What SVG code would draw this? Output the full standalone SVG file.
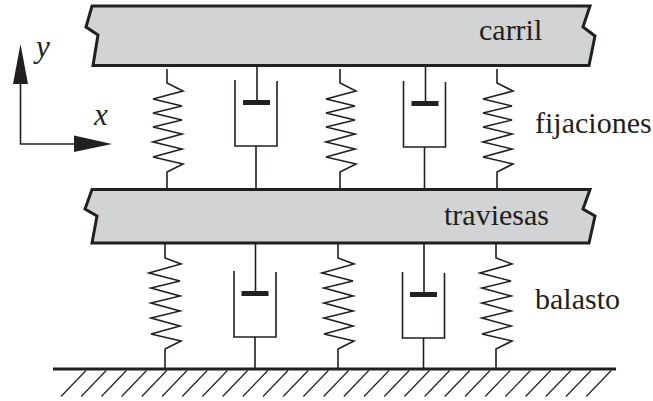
<svg xmlns="http://www.w3.org/2000/svg" xmlns:xlink="http://www.w3.org/1999/xlink" width="653" height="401" viewBox="0 0 653 401">
<style>
.ln{fill:none;stroke:#231f20;stroke-width:1.6}
.beam{fill:#d1d3d4;stroke:#231f20;stroke-width:3}
.plate{fill:#231f20}
.head{fill:#231f20}
.gnd{stroke:#231f20;stroke-width:3}
.hatch{stroke:#231f20;stroke-width:1.2}
text{font-family:"Liberation Serif","Times New Roman",serif;font-size:30px;fill:#231f20}
.it{font-style:italic;font-size:31px}
</style>
<defs>
<polyline id="spU" class="ln" points="0,0 0,14 16,22 -14,30 15,37 -14,44 15,51 -14,58 15,65 -14,73 15,80 -14,88 16,95 0,103 0,119"/>
<polyline id="spL" class="ln" points="0,0 0,15 16,21 -16,30 15,38 -14,45 15,53 -14,60 15,68 -14,75 15,83 -14,91 16,98 0,106 0,125"/>
<g id="dpU">
<path class="ln" d="M0,0V34M-22,14V80H20V15M-1,80V122"/>
<rect class="plate" x="-14" y="34" width="27" height="5"/>
</g>
<g id="dpL">
<path class="ln" d="M0,0V48M-21.500,28V94H20.500V29M-0.500,94V125"/>
<rect class="plate" x="-14" y="48" width="27" height="5"/>
</g>
<line id="ha" class="hatch" x1="0" y1="0" x2="-25" y2="26"/>
</defs>
<g id="connectors">
<use xlink:href="#spU" x="167" y="69"/>
<use xlink:href="#spU" x="340" y="69"/>
<use xlink:href="#spU" x="497" y="69"/>
<use xlink:href="#spL" x="165" y="243"/>
<use xlink:href="#spL" x="338" y="243"/>
<use xlink:href="#spL" x="496" y="243"/>
<use xlink:href="#dpU" x="257" y="66"/>
<use xlink:href="#dpU" x="425.500" y="67"/>
<use xlink:href="#dpL" x="255.500" y="243"/>
<use xlink:href="#dpL" x="424" y="244"/>
</g>
<g id="carril">
<path class="beam" d="M92,6H590L583,27L595,36L589,65.500H93L98,35L86,27Z"/>
<text x="479" y="40">carril</text>
</g>
<g id="traviesas">
<path class="beam" d="M92,189.500H590L583,209L595,216L589,243H92L97,216L85,209Z"/>
<text x="444" y="225">traviesas</text>
</g>
<g id="fijaciones"><text x="535" y="133">fijaciones</text></g>
<g id="balasto"><text x="535" y="309">balasto</text></g>
<g id="ground">
<line class="gnd" x1="53" y1="369" x2="616" y2="369"/>
<use xlink:href="#ha" x="86" y="370.500"/><use xlink:href="#ha" x="106.200" y="370.500"/><use xlink:href="#ha" x="126.400" y="370.500"/><use xlink:href="#ha" x="146.600" y="370.500"/><use xlink:href="#ha" x="166.800" y="370.500"/><use xlink:href="#ha" x="187" y="370.500"/><use xlink:href="#ha" x="207.200" y="370.500"/><use xlink:href="#ha" x="227.400" y="370.500"/><use xlink:href="#ha" x="247.600" y="370.500"/><use xlink:href="#ha" x="267.800" y="370.500"/><use xlink:href="#ha" x="288" y="370.500"/><use xlink:href="#ha" x="308.200" y="370.500"/><use xlink:href="#ha" x="328.400" y="370.500"/><use xlink:href="#ha" x="348.600" y="370.500"/><use xlink:href="#ha" x="368.800" y="370.500"/><use xlink:href="#ha" x="389" y="370.500"/><use xlink:href="#ha" x="409.200" y="370.500"/><use xlink:href="#ha" x="429.400" y="370.500"/><use xlink:href="#ha" x="449.600" y="370.500"/><use xlink:href="#ha" x="469.800" y="370.500"/><use xlink:href="#ha" x="490" y="370.500"/><use xlink:href="#ha" x="510.200" y="370.500"/><use xlink:href="#ha" x="530.400" y="370.500"/><use xlink:href="#ha" x="550.600" y="370.500"/><use xlink:href="#ha" x="570.800" y="370.500"/><use xlink:href="#ha" x="591" y="370.500"/><use xlink:href="#ha" x="611.200" y="370.500"/>
</g>
<g id="axes">
<path class="ln" d="M20.500,80V144H78"/>
<polygon class="head" points="20.500,44 13,84 28,84"/>
<polygon class="head" points="74,135.500 112,144 74,152"/>
<text class="it" x="36" y="57">y</text>
<text class="it" x="94" y="124.500">x</text>
</g>
</svg>
